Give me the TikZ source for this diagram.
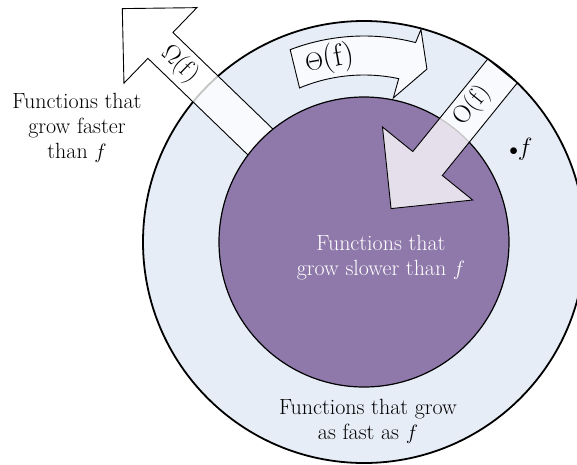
\documentclass[tikz,border=0pt]{standalone}
\usepackage{tikz}
\usetikzlibrary{calc}
\definecolor{ringblue}{RGB}{230,237,247}
\definecolor{corepurple}{RGB}{143,121,171}
\tikzset{
  blockarrow/.style={draw,line width=0.9pt,fill=white,fill opacity=0.77,line join=miter},
  lbl/.style={align=center,font=\fontsize{22}{25}\selectfont,inner sep=0pt},
  arrowlbl/.style={inner sep=0pt,font=\fontsize{25}{25}\selectfont},
}
\begin{document}
\begin{tikzpicture}[x=1pt,y=1pt]
  \useasboundingbox (-364,-222) rectangle (213,242);
  \fill[ringblue] (0,0) circle (221);
  \draw[line width=1.8pt] (0,0) circle (221);
  \begin{scope}[rotate=136]
    \draw[blockarrow] (120,-18) -- (283,-18) -- (283,-52.5) -- (336,0) -- (283,52.5) -- (283,18) -- (120,18) -- cycle;
  \end{scope}
  \fill[corepurple] (0,0) circle (145);
  \draw[line width=1.2pt] (0,0) circle (145);
  \begin{scope}[rotate=51]
    \draw[blockarrow] (220,-19) -- (101,-19) -- (101,-58) -- (43,0) -- (101,58) -- (101,19) -- (220,19) -- cycle;
  \end{scope}
  \draw[blockarrow] (111:206) arc[start angle=111,end angle=75.5,radius=206] -- (75:220) -- (70:184)
    -- (78.5:147) -- (78:167) arc[start angle=78,end angle=112.7,radius=167] -- cycle;
  \node[arrowlbl,rotate=-44] (omega) at (136:256) {$\Omega$(f)};
  \node[arrowlbl,rotate=51] (bigo) at (51.5:174) {O(f)};
  \node[inner sep=0pt,font=\fontsize{31}{31}\selectfont,rotate=10] (theta) at (100.6:186) {$\Theta$(f)};
  \node[lbl] (faster) at (-287,114) {Functions that\\grow faster\\than $f$};
  \node[lbl,text=white] (slower) at (17,-16) {Functions that\\grow slower than $f$};
  \node[lbl] (asfast) at (4,-179) {Functions that grow\\as fast as $f$};
  \node[inner sep=0pt] (fpoint) at (157,93) {{\fontsize{16}{16}\selectfont$\bullet$}{\fontsize{36}{36}\selectfont$f$}};
\end{tikzpicture}
\end{document}
